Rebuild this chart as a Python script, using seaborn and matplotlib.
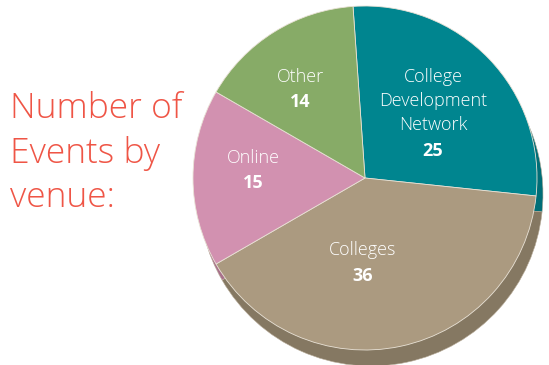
import matplotlib
matplotlib.use("Agg")
import matplotlib.pyplot as plt
import seaborn as sns

# ---- data ----
venues = ["College\nDevelopment\nNetwork", "Colleges", "Online", "Other"]
events = [25, 36, 15, 14]
top_colors = ["#00858f", "#ab9a80", "#d291b0", "#87ab67"]
side_colors = ["#006e77", "#857862", "#a8708b", "#6a8a4f"]
title_text = "Number of\nEvents by\nvenue:"

sns.set_theme(style="white")
plt.rcParams['font.family'] = ['Open Sans', 'DejaVu Sans']

W, H = 549, 365
fig = plt.figure(figsize=(W / 100, H / 100), dpi=100)
ax = fig.add_axes([0, 0, 1, 1])

cx, cy, r = 365, H - 178, 172
start = 94

# depth / shadow layer
ax.pie(events, colors=side_colors, startangle=start, counterclock=False,
       radius=r, center=(cx + 6, cy - 16),
       wedgeprops=dict(edgecolor="#b9ad9a", linewidth=0.4))
# top face
wedges, _ = ax.pie(events, colors=top_colors, startangle=start, counterclock=False,
                   radius=r, center=(cx, cy),
                   wedgeprops=dict(edgecolor="#e9e2d6", linewidth=0.6))

ax.set_xlim(0, W)
ax.set_ylim(0, H)
ax.set_aspect("auto")
ax.axis("off")

# slice labels (pixel positions, y measured from top)
label_pos = [(433, 101, 151), (363, 250, 276), (253, 158, 183), (300, 77, 102)]
for name, val, (x, yn, yv) in zip(venues, events, label_pos):
    ax.text(x, H - yn, name, color="white", fontsize=13, ha="center",
            va="center", linespacing=1.42, fontweight="light")
    ax.text(x, H - yv, str(val), color="white", fontsize=13, fontweight="bold",
            ha="center", va="center")

ax.text(10, H - 92, title_text, color="#ef5546", fontsize=25.5, ha="left",
        va="top", linespacing=1.36, fontweight="light")

fig.savefig("out.png", dpi=100)
